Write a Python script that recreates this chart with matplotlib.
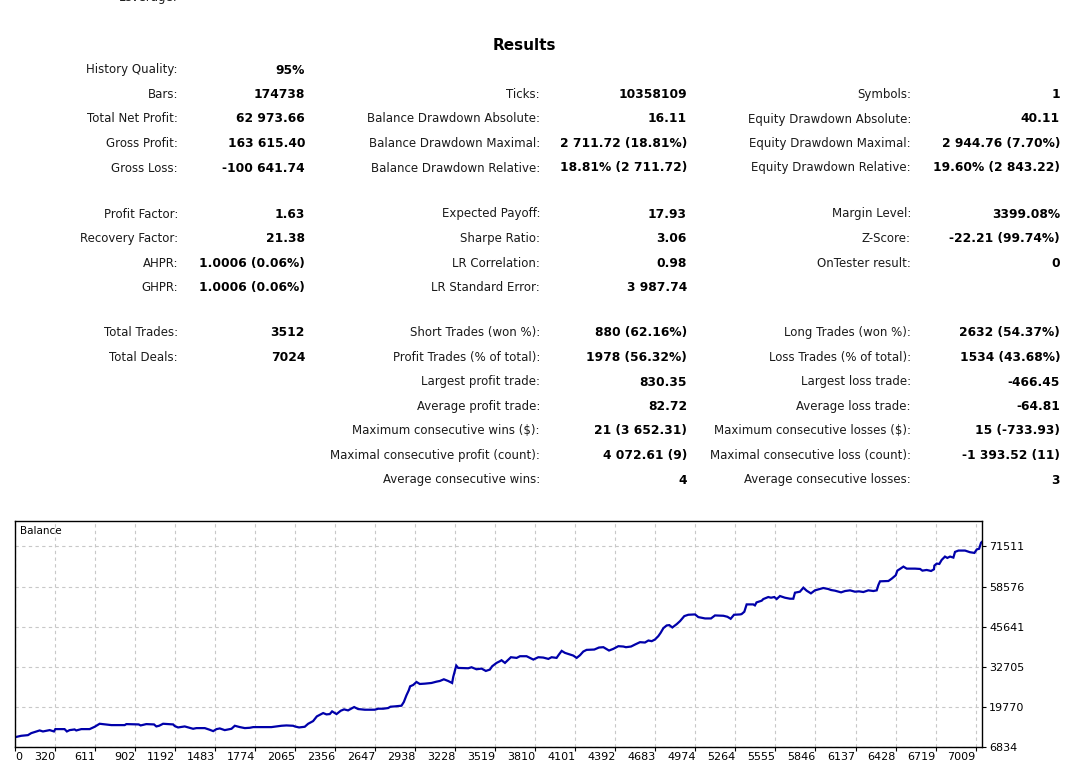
import matplotlib
matplotlib.use("Agg")
import matplotlib.pyplot as plt

W, H = 1092, 763

# ---- report table ----
sec1_c1 = [("History Quality:", "95%"), ("Bars:", "174738"), ("Total Net Profit:", "62 973.66"),
           ("Gross Profit:", "163 615.40"), ("Gross Loss:", "-100 641.74")]
sec1_c2 = [None, ("Ticks:", "10358109"), ("Balance Drawdown Absolute:", "16.11"),
           ("Balance Drawdown Maximal:", "2 711.72 (18.81%)"),
           ("Balance Drawdown Relative:", "18.81% (2 711.72)")]
sec1_c3 = [None, ("Symbols:", "1"), ("Equity Drawdown Absolute:", "40.11"),
           ("Equity Drawdown Maximal:", "2 944.76 (7.70%)"),
           ("Equity Drawdown Relative:", "19.60% (2 843.22)")]

sec2_c1 = [("Profit Factor:", "1.63"), ("Recovery Factor:", "21.38"),
           ("AHPR:", "1.0006 (0.06%)"), ("GHPR:", "1.0006 (0.06%)")]
sec2_c2 = [("Expected Payoff:", "17.93"), ("Sharpe Ratio:", "3.06"),
           ("LR Correlation:", "0.98"), ("LR Standard Error:", "3 987.74")]
sec2_c3 = [("Margin Level:", "3399.08%"), ("Z-Score:", "-22.21 (99.74%)"),
           ("OnTester result:", "0"), None]

sec3_c1 = [("Total Trades:", "3512"), ("Total Deals:", "7024"), None, None, None, None, None]
sec3_c2 = [("Short Trades (won %):", "880 (62.16%)"),
           ("Profit Trades (% of total):", "1978 (56.32%)"),
           ("Largest profit trade:", "830.35"), ("Average profit trade:", "82.72"),
           ("Maximum consecutive wins ($):", "21 (3 652.31)"),
           ("Maximal consecutive profit (count):", "4 072.61 (9)"),
           ("Average consecutive wins:", "4")]
sec3_c3 = [("Long Trades (won %):", "2632 (54.37%)"),
           ("Loss Trades (% of total):", "1534 (43.68%)"),
           ("Largest loss trade:", "-466.45"), ("Average loss trade:", "-64.81"),
           ("Maximum consecutive losses ($):", "15 (-733.93)"),
           ("Maximal consecutive loss (count):", "-1 393.52 (11)"),
           ("Average consecutive losses:", "3")]

# ---- balance curve (trade number, balance) ----
trade_no = [31, 75, 124, 148, 209, 233, 282, 313, 323, 390, 407, 427, 463, 475, 512, 572,
            609, 645, 730, 827, 839, 929, 943, 984, 1040, 1057, 1077, 1106, 1179, 1191,
            1215, 1263, 1288, 1324, 1348, 1409, 1445, 1470, 1494, 1518, 1554, 1603, 1627,
            1664, 1700, 1736, 1761, 1809, 1893, 1966, 2002, 2051, 2063, 2094, 2135, 2160,
            2196, 2223, 2269, 2293, 2317, 2334, 2366, 2397, 2421, 2450, 2494, 2523, 2572,
            2644, 2669, 2705, 2741, 2758, 2790, 2838, 2855, 2874, 2891, 2901, 2923, 2947,
            2971, 3008, 3056, 3093, 3117, 3146, 3177, 3206, 3214, 3226, 3236, 3250, 3323,
            3347, 3383, 3420, 3451, 3480, 3497, 3529, 3553, 3565, 3590, 3633, 3675, 3699,
            3747, 3796, 3832, 3868, 3905, 3929, 3965, 3982, 4002, 4026, 4062, 4086, 4111,
            4135, 4159, 4183, 4239, 4273, 4305, 4346, 4377, 4414, 4450, 4469, 4506, 4535,
            4571, 4607, 4632, 4656, 4680, 4704, 4721, 4741, 4765, 4784, 4806, 4838, 4862,
            4893, 4922, 4971, 4995, 5044, 5087, 5116, 5177, 5206, 5230, 5254, 5298, 5309,
            5329, 5346, 5394, 5406, 5418, 5455, 5467, 5503, 5523, 5547, 5564, 5588, 5624,
            5661, 5685, 5697, 5733, 5758, 5782, 5813, 5842, 5903, 5939, 5959, 5988, 6032,
            6061, 6097, 6133, 6162, 6194, 6230, 6267, 6291, 6303, 6315, 6376, 6400, 6429,
            6441, 6460, 6485, 6509, 6569, 6606, 6623, 6654, 6686, 6707, 6710, 6727, 6746,
            6763, 6787, 6804, 6824, 6848, 6860, 6885, 6933, 6969, 7001, 7018, 7035, 7049,
            7056]
balance = [10004, 10446, 10660, 11307, 12170, 11847, 12278, 11847, 12601, 12601, 11847,
           12278, 12494, 12170, 12601, 12601, 13357, 14327, 13895, 13895, 14218, 14111,
           13787, 14218, 14111, 13464, 13680, 14327, 14111, 13572, 13140, 13464, 13140,
           12710, 12925, 12925, 12386, 11954, 12601, 12817, 12278, 12710, 13680, 13249,
           12925, 13033, 13249, 13249, 13249, 13680, 13787, 13680, 13464, 13140, 13357,
           14327, 15187, 16698, 17775, 17345, 17452, 18315, 17452, 18531, 18962, 18638,
           19716, 19069, 18854, 18854, 19177, 19177, 19393, 19824, 19932, 20147, 21333,
           23489, 25106, 26400, 26830, 27800, 27154, 27263, 27477, 27910, 28124, 28664,
           28124, 27477, 29417, 31358, 33085, 32329, 32221, 32544, 31897, 32114, 31358,
           31790, 32868, 33945, 34485, 34808, 33945, 35778, 35561, 36102, 36102, 35025,
           35778, 35671, 35238, 35778, 35561, 36641, 37826, 37179, 36641, 36318, 35561,
           36425, 37612, 38149, 38258, 38905, 39012, 37935, 38472, 39336, 39228, 39012,
           39228, 39876, 40630, 40522, 41169, 40953, 41493, 42571, 43648, 45158, 46021,
           46129, 45375, 46452, 47422, 49039, 49470, 49578, 48714, 48283, 48283, 49254,
           49146, 48823, 48176, 49470, 49578, 49685, 50439, 52812, 52812, 52489, 53459,
           53997, 54536, 55183, 54966, 55183, 54536, 55507, 54966, 54643, 54643, 56584,
           56907, 58201, 57231, 56368, 57338, 58093, 57770, 57447, 57231, 56692, 57123,
           57338, 56907, 57015, 56800, 57338, 57123, 57338, 59063, 60248, 60356, 61111,
           62189, 63698, 64238, 64993, 64346, 64346, 64238, 63698, 63915, 63591, 64131,
           65317, 65964, 65856, 67150, 68228, 67797, 68228, 67905, 69737, 70168, 70168,
           69630, 69414, 70536, 70752, 72693, 72973]

y_ticks = [6834, 19770, 32705, 45641, 58576, 71511]
x_ticks = [320, 611, 902, 1192, 1483, 1774, 2065, 2356, 2647, 2938, 3228, 3519, 3810,
           4101, 4392, 4683, 4974, 5264, 5555, 5846, 6137, 6428, 6719, 7009]

fig = plt.figure(figsize=(W / 100, H / 100), dpi=100)
plt.rcParams['font.family'] = ['DejaVu Sans']


def fx(x):
    return x / W


def fy(y):
    return 1 - y / H


LBL_FS = 8.5
VAL_FS = 8.8

# leverage row, cut off at the top of the page
fig.text(fx(178), fy(-3), "Leverage:", ha="right", va="center", fontsize=LBL_FS, color="#202020")
fig.text(fx(187), fy(-3), "1:100", ha="left", va="center", fontsize=VAL_FS,
         fontweight="bold", color="black")

fig.text(fx(524), fy(45), "Results", ha="center", va="center", fontsize=11,
         fontweight="bold", color="black")

cols = [(178, 305), (540, 687), (911, 1060)]
step = 24.5
sections = [(70, [sec1_c1, sec1_c2, sec1_c3]),
            (214, [sec2_c1, sec2_c2, sec2_c3]),
            (333, [sec3_c1, sec3_c2, sec3_c3])]
for y0, columns in sections:
    for (lx, vx), rows in zip(cols, columns):
        for i, item in enumerate(rows):
            if item is None:
                continue
            y = y0 + i * step
            fig.text(fx(lx), fy(y), item[0], ha="right", va="center",
                     fontsize=LBL_FS, color="#1a1a1a")
            fig.text(fx(vx), fy(y), item[1], ha="right", va="center",
                     fontsize=VAL_FS, fontweight="bold", color="black")

# ---- chart ----
ax = fig.add_axes([fx(15), fy(747), fx(982 - 15), (747 - 521) / H])
ax.plot(trade_no, balance, color="#0000aa", lw=1.6, solid_joinstyle="miter")
ax.set_xlim(30, 7056)
ax.set_ylim(6834, 79700)

ax.set_xticks([30] + x_ticks)
ax.set_xticklabels(["0"] + [str(v) for v in x_ticks], fontsize=8)
labels = ax.get_xticklabels()
labels[0].set_ha("left")
for lab in labels[1:]:
    lab.set_ha("right")
ax.set_yticks(y_ticks)
ax.set_yticklabels([str(v) for v in y_ticks], fontsize=8)
ax.yaxis.tick_right()
ax.tick_params(axis="both", length=3, width=0.8, color="black", pad=2)
ax.tick_params(axis="x", pad=0.5)

ax.grid(True, color="#c8c8c8", linestyle=(0, (3, 3)), lw=0.8)
ax.set_axisbelow(True)
for sp in ax.spines.values():
    sp.set_linewidth(1.0)
    sp.set_color("black")

ax.text(5 / (982 - 15), 1 - 10 / 226, "Balance", transform=ax.transAxes,
        ha="left", va="center", fontsize=7.5, color="black")

fig.savefig("out.png", dpi=100)
